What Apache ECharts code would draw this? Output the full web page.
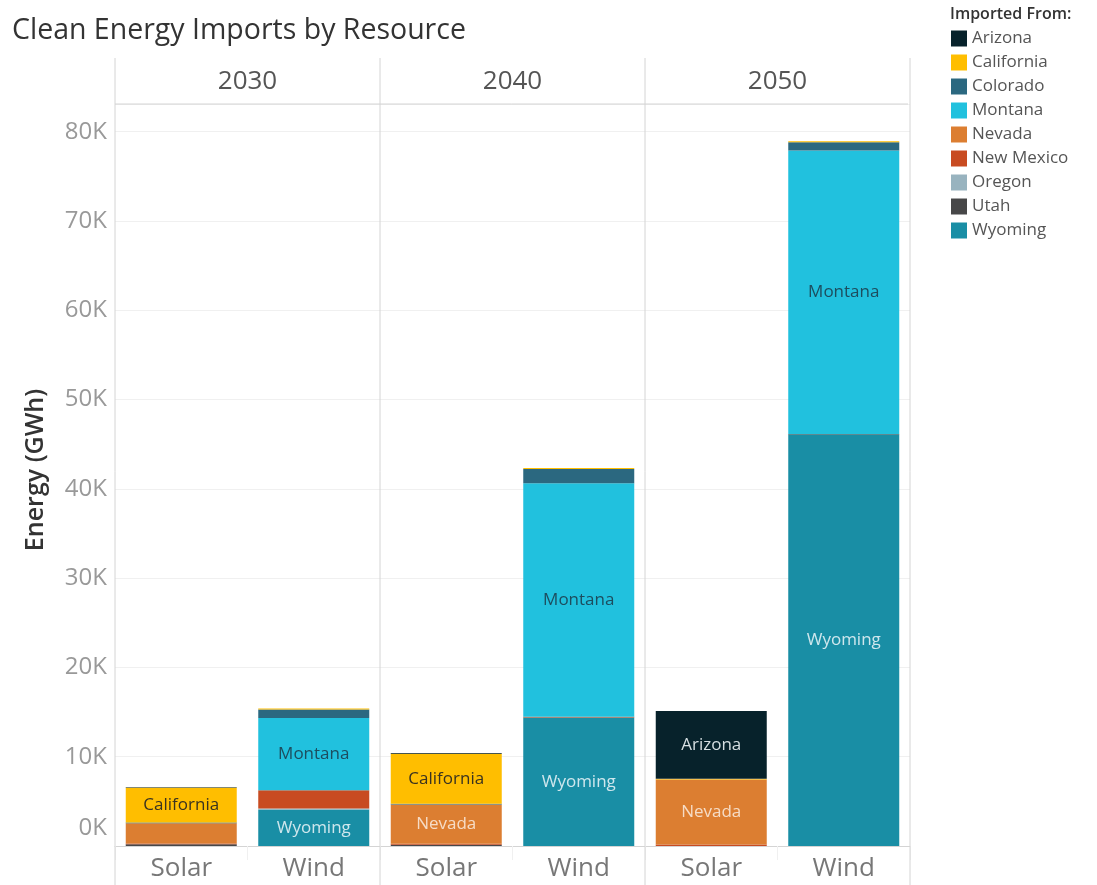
<!DOCTYPE html>
<html>
<head>
<meta charset="utf-8">
<script src="https://cdn.jsdelivr.net/npm/echarts@6/dist/echarts.min.js"></script>
<style>
  html, body { margin: 0; padding: 0; background: #fff; }
  #chart { width: 1097px; height: 885px; }
</style>
</head>
<body>
<div id="chart"></div>
<script>
// data (GWh)
const years = ['2030', '2040', '2050']
const categories = ['Solar', 'Wind']
const legendOrder = ['Arizona', 'California', 'Colorado', 'Montana', 'Nevada', 'New Mexico', 'Oregon', 'Utah', 'Wyoming']
// bottom -> top of each stack
const stackOrder = ['Wyoming', 'Utah', 'Oregon', 'New Mexico', 'Nevada', 'Montana', 'Colorado', 'California', 'Arizona']
const yTicks = [0, 10000, 20000, 30000, 40000, 50000, 60000, 70000, 80000]

// each array: [2030 Solar, 2030 Wind, 2040 Solar, 2040 Wind, 2050 Solar, 2050 Wind]
const arizona = [60, 0, 80, 0, 7580, 0]
const california = [3890, 110, 5600, 130, 100, 120]
const colorado = [90, 940, 100, 1570, 0, 930]
const montana = [0, 8100, 0, 26170, 0, 31770]
const nevada = [2260, 0, 4390, 0, 7260, 0]
const newMexico = [80, 2050, 100, 80, 180, 0]
const oregon = [0, 100, 0, 0, 0, 0]
const utah = [200, 0, 150, 0, 0, 100]
const wyoming = [0, 4090, 0, 14390, 0, 46020]

const values = {
  'Arizona': arizona, 'California': california, 'Colorado': colorado, 'Montana': montana,
  'Nevada': nevada, 'New Mexico': newMexico, 'Oregon': oregon, 'Utah': utah, 'Wyoming': wyoming,
}

const colors = {
  'Arizona': '#07222b', 'California': '#ffbe00', 'Colorado': '#2b6880', 'Montana': '#21c1de',
  'Nevada': '#dc7e31', 'New Mexico': '#c84b21', 'Oregon': '#98b3bf', 'Utah': '#474748', 'Wyoming': '#198ea5',
}
const labelColors = {
  'Arizona': '#d6dfe2', 'California': '#3a3320', 'Montana': '#1d4d5e',
  'Nevada': '#f6dcc6', 'Wyoming': '#cfe7ed',
}

const FONT = '"Open Sans", "Noto Sans", sans-serif'
const panelLeft = [115, 380, 645]
const panelW = 265
const gridTop = 104
const gridBottom = 846
const axisMax = 83100
const lineColor = '#d4d4d4'

const chart = echarts.init(document.getElementById('chart'))

const series = []
years.forEach((yr, g) => {
  stackOrder.forEach(name => {
    series.push({
      name,
      type: 'bar',
      stack: 'y' + yr,
      xAxisIndex: g,
      yAxisIndex: g,
      barWidth: 111,
      data: [values[name][g * 2], values[name][g * 2 + 1]],
      itemStyle: { color: colors[name] },
      label: {
        show: true,
        position: 'inside',
        fontFamily: FONT,
        fontSize: 17,
        color: labelColors[name] || '#333',
        formatter: p => (p.value >= 3000 ? name : ''),
      },
      emphasis: { disabled: true },
    })
  })
})

const graphic = []
panelLeft.concat([panelLeft[2] + panelW]).forEach(x => {
  graphic.push({ type: 'line', z: 10, shape: { x1: x, y1: 58, x2: x, y2: 885 }, style: { stroke: lineColor, lineWidth: 1 } })
})
graphic.push({ type: 'line', z: 10, shape: { x1: 115, y1: gridTop, x2: 908, y2: gridTop }, style: { stroke: lineColor, lineWidth: 1 } })
years.forEach((yr, g) => {
  graphic.push({
    type: 'text', z: 10, x: panelLeft[g] + panelW / 2, y: 82,
    style: { text: yr, fontFamily: FONT, fontSize: 26, fill: '#555', align: 'center', verticalAlign: 'middle' },
  })
})
graphic.push({
  type: 'text', x: 36, y: 470, rotation: Math.PI / 2,
  style: { text: 'Energy (GWh)', fontFamily: FONT, fontSize: 25, fontWeight: 600, fill: '#333', align: 'center', verticalAlign: 'middle' },
})
graphic.push({
  type: 'text', x: 950, y: 14,
  style: { text: 'Imported From:', fontFamily: FONT, fontSize: 16, fontWeight: 600, fill: '#333', align: 'left', verticalAlign: 'middle' },
})

chart.setOption({
  animation: false,
  backgroundColor: '#ffffff',
  title: {
    text: 'Clean Energy Imports by Resource',
    left: 7, top: 11,
    textStyle: { fontFamily: FONT, fontSize: 28.5, fontWeight: 'normal', color: '#333' },
  },
  legend: {
    data: legendOrder,
    orient: 'vertical',
    left: 946, top: 25,
    icon: 'rect',
    itemWidth: 16, itemHeight: 16, itemGap: 7,
    selectedMode: false,
    textStyle: { fontFamily: FONT, fontSize: 17, color: '#555' },
  },
  grid: panelLeft.map(l => ({ left: l, width: panelW, top: gridTop, height: gridBottom - gridTop })),
  xAxis: panelLeft.map((l, g) => ({
    type: 'category',
    gridIndex: g,
    data: categories,
    axisLine: { lineStyle: { color: lineColor } },
    axisTick: { show: true, length: 14, lineStyle: { color: '#f0f0f0' } },
    axisLabel: { fontFamily: FONT, fontSize: 26, color: '#777', margin: 10 },
  })),
  yAxis: panelLeft.map((l, g) => ({
    type: 'value',
    gridIndex: g,
    min: 0, max: axisMax, interval: 10000,
    axisLine: { show: false },
    axisTick: { show: false },
    splitLine: { lineStyle: { color: '#f0f0f0' } },
    axisLabel: {
      show: g === 0,
      fontFamily: FONT, fontSize: 24, color: '#999', margin: 8,
      formatter: v => {
        if (!yTicks.includes(v)) return ''
        if (v === 0) return '{z|0K}'
        return (v / 1000) + 'K'
      },
      rich: { z: { fontFamily: FONT, fontSize: 24, color: '#999', padding: [0, 0, 36, 0] } },
    },
  })),
  graphic,
  series,
})
</script>
</body>
</html>
